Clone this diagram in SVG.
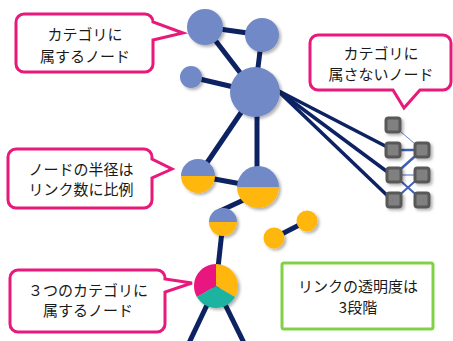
<svg xmlns="http://www.w3.org/2000/svg" width="453" height="341" viewBox="0 0 453 341">
<style>
.edge{stroke:#0c2262;stroke-width:5;stroke-linecap:butt;fill:none}
.edge2{stroke:#0c2262;stroke-width:3.5;fill:none}
.blink{stroke:#3f5fb5;fill:none}
.blue{fill:#7189c7}
.yel{fill:#ffb60e}
.call{fill:#fff;stroke:#e8197a;stroke-width:3;stroke-linejoin:miter}
.box{fill:#fff;stroke:#80d146;stroke-width:3}
.t{font-family:"Noto Sans CJK JP","Noto Sans",sans-serif;font-size:15px;fill:#1a1a1a;text-anchor:middle}
.sq{fill:#808080;stroke:#585858;stroke-width:3}
</style>
<defs>
<filter id="sh" x="-30%" y="-30%" width="160%" height="160%">
<feDropShadow dx="2" dy="2" stdDeviation="1.5" flood-color="#000" flood-opacity="0.3"/>
</filter>
</defs>
<g id="connectors">
<line class="edge" x1="205" y1="27" x2="262" y2="35"/>
<line class="edge" x1="205" y1="27" x2="255" y2="92"/>
<line class="edge" x1="191" y1="77" x2="255" y2="92"/>
<line class="edge" x1="262" y1="35" x2="255" y2="92"/>
<line class="edge" x1="255" y1="92" x2="198" y2="176"/>
<line class="edge" x1="257" y1="92" x2="257" y2="187"/>
<line class="edge" x1="198" y1="176" x2="258" y2="187"/>
<line class="edge" x1="250" y1="197" x2="220" y2="211"/>
<line class="edge" x1="223" y1="222" x2="216" y2="286"/>
<line class="edge" x1="216" y1="286" x2="188" y2="345"/>
<line class="edge" x1="216" y1="286" x2="245" y2="345"/>
<line class="edge" x1="274" y1="238" x2="307" y2="221"/>
<line class="edge2" x1="277" y1="90" x2="393" y2="150"/>
<line class="edge2" x1="277" y1="90" x2="393" y2="176"/>
<line class="edge2" x1="277" y1="90" x2="393" y2="201"/>
<line class="blink" stroke-width="1" stroke-opacity="0.8" x1="393" y1="125" x2="422" y2="150"/>
<line class="blink" stroke-width="2.5" x1="393" y1="150" x2="422" y2="150"/>
<line class="blink" stroke-width="2.5" x1="422" y1="150" x2="394" y2="175"/>
<line class="blink" stroke-width="1.2" stroke-opacity="0.8" x1="394" y1="175" x2="422" y2="175"/>
<line class="blink" stroke-width="2" x1="394" y1="175" x2="422" y2="200"/>
<line class="blink" stroke-width="2" x1="394" y1="200" x2="422" y2="175"/>
</g>
<g id="n-a" filter="url(#sh)"><circle class="blue" cx="205" cy="27" r="18"/></g>
<g id="n-b" filter="url(#sh)"><circle class="blue" cx="262" cy="35" r="17"/></g>
<g id="n-c" filter="url(#sh)"><circle class="blue" cx="191" cy="77" r="11"/></g>
<g id="n-d" filter="url(#sh)"><circle class="blue" cx="255" cy="92" r="25"/></g>
<g id="n-e" filter="url(#sh)">
<path class="blue" d="M181,176 A17,17 0 0 1 215,176 Z"/>
<path class="yel" d="M181,176 A17,17 0 0 0 215,176 Z"/>
</g>
<g id="n-f" filter="url(#sh)">
<path class="blue" d="M237,187 A21,21 0 0 1 279,187 Z"/>
<path class="yel" d="M237,187 A21,21 0 0 0 279,187 Z"/>
</g>
<g id="n-g" filter="url(#sh)">
<path class="blue" d="M209,222 A14,14 0 0 1 237,222 Z"/>
<path class="yel" d="M209,222 A14,14 0 0 0 237,222 Z"/>
</g>
<g id="n-h" filter="url(#sh)"><circle class="yel" cx="274" cy="238" r="10.5"/></g>
<g id="n-i" filter="url(#sh)"><circle class="yel" cx="307" cy="221" r="10.5"/></g>
<g id="n-pie" filter="url(#sh)">
<path fill="#e8187e" d="M216,286 L216,264 A22,22 0 0 0 196.95,297 Z"/>
<path fill="#ffb60e" d="M216,286 L216,264 A22,22 0 0 1 235.05,297 Z"/>
<path fill="#1db4a0" d="M216,286 L196.95,297 A22,22 0 0 0 235.05,297 Z"/>
</g>
<g id="squares" filter="url(#sh)">
<rect class="sq" x="386" y="118" width="14" height="14" rx="2.5"/>
<rect class="sq" x="386" y="143" width="14" height="14" rx="2.5"/>
<rect class="sq" x="387" y="168" width="14" height="14" rx="2.5"/>
<rect class="sq" x="387" y="193" width="14" height="14" rx="2.5"/>
<rect class="sq" x="415" y="143" width="14" height="14" rx="2.5"/>
<rect class="sq" x="415" y="168" width="14" height="14" rx="2.5"/>
<rect class="sq" x="415" y="193" width="14" height="14" rx="2.5"/>
</g>
<g id="callout-1">
<path class="call" d="M24,14 H145 A8,8 0 0 1 153,22 L183,33 L153,40 V64 A8,8 0 0 1 145,72 H24 A8,8 0 0 1 16,64 V22 A8,8 0 0 1 24,14 Z"/>
<text class="t" x="85" y="40">カテゴリに</text>
<text class="t" x="85" y="61.5">属するノード</text>
</g>
<g id="callout-2">
<path class="call" d="M318,35 H443 A8,8 0 0 1 451,43 V82 A8,8 0 0 1 443,90 H420 L404,108 L393,90 H318 A8,8 0 0 1 310,82 V43 A8,8 0 0 1 318,35 Z"/>
<text class="t" x="381" y="59">カテゴリに</text>
<text class="t" x="381" y="80">属さないノード</text>
</g>
<g id="callout-3">
<path class="call" d="M16,149 H144 A8,8 0 0 1 152,157 V159 L172,169 L152,178 V200 A8,8 0 0 1 144,208 H16 A8,8 0 0 1 8,200 V157 A8,8 0 0 1 16,149 Z"/>
<text class="t" x="81" y="175">ノードの半径は</text>
<text class="t" x="81" y="195">リンク数に比例</text>
</g>
<g id="callout-4">
<path class="call" d="M18,270 H157 A8,8 0 0 1 165,278 V279 L192,283 L165,292 V324 A8,8 0 0 1 157,332 H18 A8,8 0 0 1 10,324 V278 A8,8 0 0 1 18,270 Z"/>
<text class="t" x="88" y="296">３つのカテゴリに</text>
<text class="t" x="88" y="316">属するノード</text>
</g>
<g id="note">
<rect class="box" x="282" y="263" width="151" height="66" rx="2"/>
<text class="t" x="358" y="292">リンクの透明度は</text>
<text class="t" x="358" y="313">3段階</text>
</g>
</svg>
